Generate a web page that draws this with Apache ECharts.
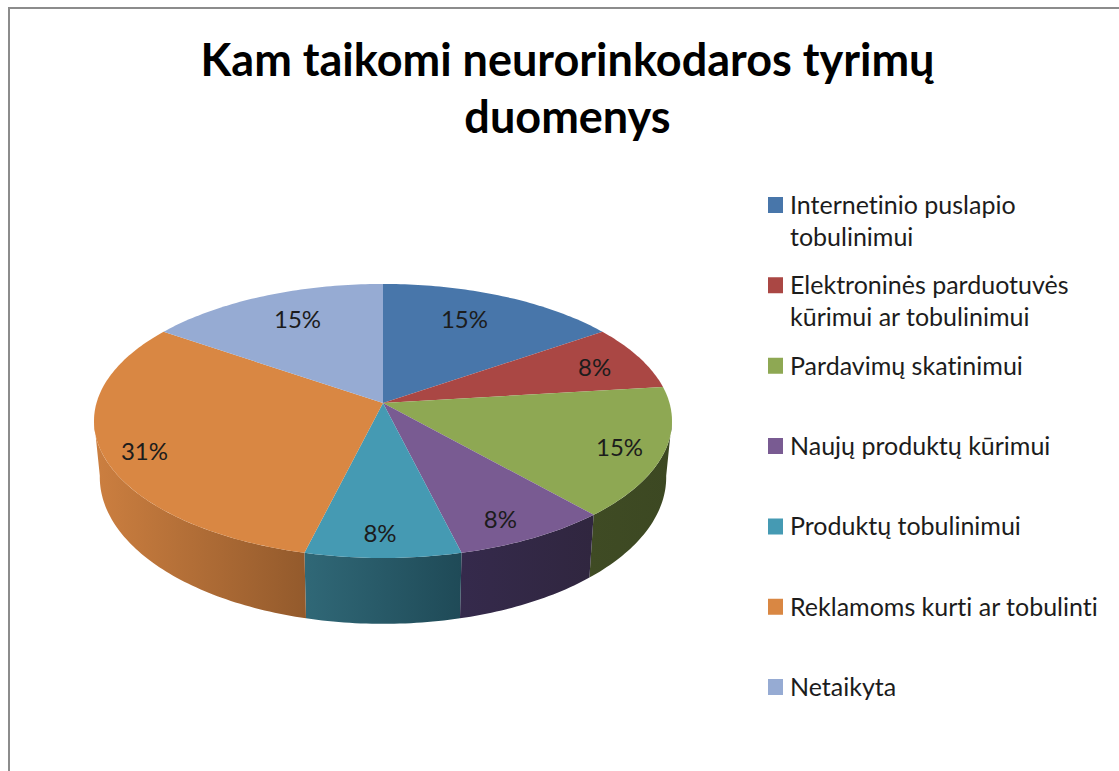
<!DOCTYPE html>
<html>
<head>
<meta charset="utf-8">
<title>Kam taikomi neurorinkodaros tyrimų duomenys</title>
<script src="https://cdn.jsdelivr.net/npm/echarts@6/dist/echarts.min.js"></script>
<style>
  html, body { margin: 0; padding: 0; background: #fff; }
  #myChart { width: 1119px; height: 771px; }
  #myChart text { font-variant-ligatures: none; }
</style>
</head>
<body>
<div id="myChart"></div>
<script>
const chartTitle = "Kam taikomi neurorinkodaros tyrimų\nduomenys";
const categories = [
  "Internetinio puslapio\ntobulinimui",
  "Elektroninės parduotuvės\nkūrimui ar tobulinimui",
  "Pardavimų skatinimui",
  "Naujų produktų kūrimui",
  "Produktų tobulinimui",
  "Reklamoms kurti ar tobulinti",
  "Netaikyta"
];
// 13 respondentu, procentai suapvalinti
const values = [2, 1, 2, 1, 1, 4, 2];
const topColors = ["#4876aa", "#aa4744", "#8ea853", "#795b92", "#459ab3", "#d98743", "#96abd3"];
const sideColors = [
  ["#2c4a6c", "#2c4a6c"],
  ["#6c2c2a", "#6c2c2a"],
  ["#3f4b24", "#3c4822"],
  ["#352a4c", "#30263f"],
  ["#306877", "#1f4a57"],
  ["#cc7f40", "#935a2c"],
  ["#5f6c86", "#5f6c86"]
];
// etikeciu poslinkis nuo numatytos vietos
const labelShift = [[-16, 3], [5, 0], [14, 4], [0, 10], [-3, 9], [-16, 8], [12, 3]];

// pseudo 3D pyrago geometrija
const pie = { cx: 383, cy: 403, rx: 286.5, ry: 134.7, persp: 0.131, depth: 55, baseX: 0.98, baseY: 1.07, labelR: 0.8 };
const total = values.reduce((a, b) => a + b, 0);

function project(deg, f) {
  const rad = (deg * Math.PI) / 180;
  const u = f * Math.sin(rad);
  const v = -f * Math.cos(rad);
  const w = 1 - pie.persp * v;
  return [pie.cx + (pie.rx * u) / w, pie.cy + (pie.ry * v) / w];
}

function projectBase(deg) {
  const p = project(deg, 1);
  return [
    pie.cx + (p[0] - pie.cx) * pie.baseX,
    pie.cy + pie.depth + (p[1] - pie.cy) * pie.baseY
  ];
}

function arcPoints(from, to, fn) {
  const pts = [];
  const n = Math.max(2, Math.ceil(Math.abs(to - from)));
  for (let i = 0; i <= n; i++) {
    pts.push(fn(from + ((to - from) * i) / n));
  }
  return pts;
}

function sliceRender(index) {
  return function (params, api) {
    const start = (values.slice(0, index).reduce((a, b) => a + b, 0) / total) * 360;
    const end = start + (api.value(0) / total) * 360;
    const mid = (start + end) / 2;
    const children = [];

    // sonine dalis matoma tik priekyje
    const sideFrom = Math.max(start, 97);
    const sideTo = Math.min(end, 263);
    if (sideTo > sideFrom) {
      const side = arcPoints(sideFrom, sideTo, (d) => project(d, 1)).concat(
        arcPoints(sideTo, sideFrom, projectBase)
      );
      children.push({
        type: "polygon",
        shape: { points: side },
        style: {
          fill: new echarts.graphic.LinearGradient(0, 0, 1, 0, [
            { offset: 0, color: sideColors[index][0] },
            { offset: 1, color: sideColors[index][1] }
          ])
        }
      });
    }

    const top = [[pie.cx, pie.cy]].concat(arcPoints(start, end, (d) => project(d, 1)));
    children.push({
      type: "polygon",
      shape: { points: top },
      style: { fill: topColors[index] }
    });

    const pos = project(mid, pie.labelR);
    children.push({
      type: "text",
      z2: 10,
      style: {
        x: pos[0] + labelShift[index][0],
        y: pos[1] + labelShift[index][1],
        text: Math.round((api.value(0) / total) * 100) + "%",
        fill: "#1c1c1c",
        font: "24px Lato",
        align: "center",
        verticalAlign: "middle"
      }
    });
    return { type: "group", children: children };
  };
}

// svg, kad css isjungtu ligaturas tekste
const charts = echarts.init(document.getElementById("myChart"), null, { renderer: "svg" });
const serObj = categories.map((name, i) => ({
  name: name,
  type: "custom",
  coordinateSystem: "none",
  silent: true,
  itemStyle: { color: topColors[i] },
  renderItem: sliceRender(i),
  data: [[values[i]]]
}));

charts.setOption({
  animation: false,
  backgroundColor: "#fff",
  title: {
    text: chartTitle,
    left: 562.5,
    top: 25,
    textAlign: "center",
    textStyle: {
      fontFamily: "Lato",
      fontWeight: "bold",
      fontSize: 45,
      lineHeight: 57,
      color: "#000"
    }
  },
  legend: {
    orient: "vertical",
    left: 768,
    top: 188,
    padding: 0,
    itemGap: 16.35,
    itemWidth: 15,
    itemHeight: 46,
    selectedMode: false,
    // kvadratelis pirmoje eiluteje
    icon: "path://M0,0H15V16H0Z M0,46H15V46Z",
    formatter: (name) => (name.indexOf("\n") < 0 ? name + "\n " : name),
    textStyle: {
      fontFamily: "Lato",
      fontSize: 25,
      lineHeight: 32,
      color: "#1c1c1c",
      padding: [0, 0, 0, 2]
    },
    data: categories
  },
  // remelis
  graphic: [
    {
      type: "rect",
      silent: true,
      z: -1,
      shape: { x: 9, y: 8, width: 1300, height: 1000 },
      style: { fill: "none", stroke: "#8c8c8c", lineWidth: 2 }
    }
  ],
  series: serObj
});
</script>
</body>
</html>
